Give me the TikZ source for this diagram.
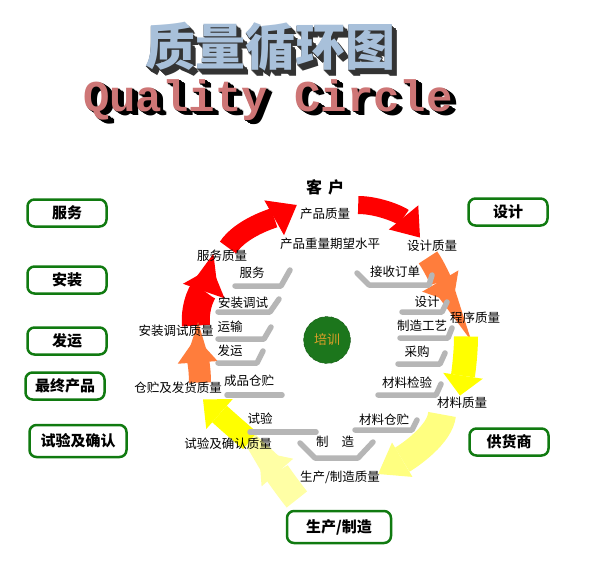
\documentclass[tikz,border=0pt]{standalone}
\usepackage{fontspec}
\setmainfont{Noto Sans CJK SC}
\newfontfamily\monofont{Liberation Mono}
\usetikzlibrary{positioning,arrows.meta,backgrounds}
\definecolor{boxgreen}{RGB}{16,122,16}
\definecolor{circgreen}{RGB}{28,118,28}
\definecolor{pxgold}{RGB}{222,160,40}
\definecolor{linegray}{RGB}{182,182,182}
\definecolor{arrowred}{RGB}{255,0,0}
\definecolor{arroworange}{RGB}{255,125,60}
\definecolor{arrowyellow}{RGB}{255,255,0}
\definecolor{arrowpale}{RGB}{255,255,128}
\definecolor{arrowpaler}{RGB}{255,255,165}
\definecolor{titleblue}{RGB}{168,192,218}
\definecolor{titlerose}{RGB}{206,118,118}
\tikzset{>=latex}

\begin{document}
\begin{tikzpicture}[x=1pt,y=-1pt,
  lbl/.style={inner sep=1pt, text height=10pt, text depth=2.5pt, font=\fontsize{12.5}{14}\selectfont},
  sidebox/.style={draw=boxgreen, line width=2.5pt, rounded corners=7pt, minimum width=79pt, minimum height=27pt, font=\fontsize{15}{17}\selectfont\bfseries},
  grayline/.style={draw=linegray, line width=5.5pt, line cap=round, line join=round},
  fatarrow/.style args={#1/#2/#3}{line width=#1pt, -{Triangle[length=#2pt,width=#3pt,line width=0pt]}},
  cntitle/.style={font=\fontsize{50}{52}\selectfont\bfseries, inner sep=0pt},
  entitle/.style={font=\monofont\bfseries\fontsize{44}{46}\selectfont, inner sep=0pt},
]
\useasboundingbox (0,0) rectangle (596,568);

% title
\foreach \k in {1,...,7}
  \node[cntitle, text=black!80] (cnshade\k) at (270+0.8*\k, 47+0.8*\k) {质量循环图};
\node[cntitle, text=titleblue] (title) at (270,47) {质量循环图};
\foreach \k in {1,...,6}
  \node[entitle, text=black] (enshade\k) at (268+\k, 100+0.7*\k) {Quality Circle};
\node[entitle, text=titlerose] (titleen) at (268,100) {Quality Circle};

% side boxes
\node[sidebox] (bfw) at (67,213) {服务};
\node[sidebox, below of=bfw, node distance=67pt] (baz) {安装};
\node[sidebox, below of=baz, node distance=61pt] (bfy) {发运};
\node[sidebox, below of=bfy, node distance=45pt, xshift=-2pt] (bzc) {最终产品};
\node[sidebox, below of=bzc, node distance=55pt, xshift=13pt, minimum width=97pt, minimum height=32pt] (bsy) {试验及确认};
\node[sidebox] (bsj) at (508,212) {设计};
\node[sidebox] (bgh) at (509,442) {供货商};
\node[sidebox, minimum width=104pt, minimum height=32pt] (bsc) at (339,527) {生产/制造};

% centre
\node[circle, fill=circgreen, draw=circgreen!70!black, dashed, minimum size=47pt, inner sep=0pt, text=pxgold, font=\fontsize{13}{15}\selectfont] (px) at (327,340) {培训};
\node[font=\fontsize{16}{18}\selectfont\bfseries] (kehu) at (325,187) {客\hspace{6pt}户};

% quality labels
\node[lbl] (cpzl) at (325,215) {产品质量};
\node[lbl] (sjzl) at (432,247) {设计质量};
\node[lbl] (cxzl) at (475,319) {程序质量};
\node[lbl] (clzl) at (462,404) {材料质量};
\node[lbl] (sczl) at (340,478) {生产/制造质量};
\node[lbl] (syzl) at (228,445) {试验及确认质量};
\node[lbl] (cczl) at (178,389) {仓贮及发货质量};
\node[lbl] (azzl) at (176,332) {安装调试质量};
\node[lbl] (fwzl) at (222,257) {服务质量};

% activities
\node[lbl] (qwsp) at (330,245) {产品重量期望水平};
\node[lbl] (fw) at (252,274) {服务};
\node[lbl] (azts) at (243,304) {安装调试};
\node[lbl] (ys) at (230,328) {运输};
\node[lbl] (fy) at (230,352) {发运};
\node[lbl] (cpcc) at (249,382) {成品仓贮};
\node[lbl] (sy) at (260,420) {试验};
\node[lbl] (zz) at (335,443) {制\hspace{13pt}造};
\node[lbl] (clcc) at (384,421) {材料仓贮};
\node[lbl] (cljy) at (407,384) {材料检验};
\node[lbl] (cg) at (417,353) {采购};
\node[lbl] (zzgy) at (422,327) {制造工艺};
\node[lbl] (sj) at (427,303) {设计};
\node[lbl] (jsdd) at (395,273) {接收订单};

% gray steps
\draw[grayline] (235,286) -- (281,286) -- (290,270);
\draw[grayline] (218,312) -- (270,312) -- (279,299);
\draw[grayline] (218,339) -- (264,339) -- (271,327);
\draw[grayline] (218,363) -- (257,363) -- (263,351);
\draw[grayline] (227,395) -- (282,395);
\draw[grayline] (250,432) -- (316,432);
\draw[grayline] (300,443) -- (315,458) -- (358,458) -- (373,442);
\draw[grayline] (355,430) -- (412,430) -- (417,420);
\draw[grayline] (378,395) -- (436,395) -- (441,384);
\draw[grayline] (398,364) -- (440,364) -- (445,353);
\draw[grayline] (400,338) -- (448,338) -- (452,328);
\draw[grayline] (402,312) -- (442,312) -- (447,302);
\draw[grayline] (357,273) -- (369,285) -- (429,285) -- (432,275);

% quality loop
\begin{scope}[on background layer]
\fill[white] (0,0) rectangle (596,568);
\draw[fatarrow=28/25/44, arrowred] ([shift={(20,1)}]azzl.north) .. controls +(-2,-22) and +(-7,20) .. ([shift={(-10,3)}]fwzl.south);
\draw[fatarrow=20/26/40, arrowred] ([shift={(6,-2)}]fwzl.north) .. controls +(13,-20) and +(-23,13) .. ([shift={(-2,-10)}]cpzl.west);
\draw[fatarrow=18/26/38, arrowred] ([shift={(7,-10)}]cpzl.east) .. controls +(21,0) and +(-18,-22) .. ([shift={(-12,-2)}]sjzl.north);
\draw[fatarrow=22/25/42, arroworange] ([shift={(-4,3)}]sjzl.south) .. controls +(7,10) and +(-10,-17) .. ([shift={(-22,-9)}]cxzl.north);
\draw[fatarrow=24/20/40, arrowyellow] ([shift={(-9,10)}]cxzl.south) .. controls +(0,18) and +(3,-20) .. ([shift={(-2,-1)}]clzl.north);
\draw[fatarrow=28/28/40, arrowpale] ([shift={(-20,3)}]clzl.south) .. controls +(-2,20) and +(32,-19) .. ([shift={(-3,-4)}]sczl.east);
\draw[fatarrow=26/28/42, arrowpaler] ([shift={(-2,14)}]sczl.south west) .. controls +(-8,-10) and +(14,16) .. ([shift={(-14,-1)}]syzl.south east);
\draw[fatarrow=22/22/40, arrowyellow] ([shift={(22,3)}]syzl.north) .. controls +(-10,-8) and +(17,15) .. ([shift={(25,3)}]cczl.south);
\draw[fatarrow=22/25/40, arroworange] ([shift={(22,1)}]cczl.north) .. controls +(0,-15) and +(1,15) .. ([shift={(20,-2)}]azzl.south);
\end{scope}
\end{tikzpicture}
\end{document}
